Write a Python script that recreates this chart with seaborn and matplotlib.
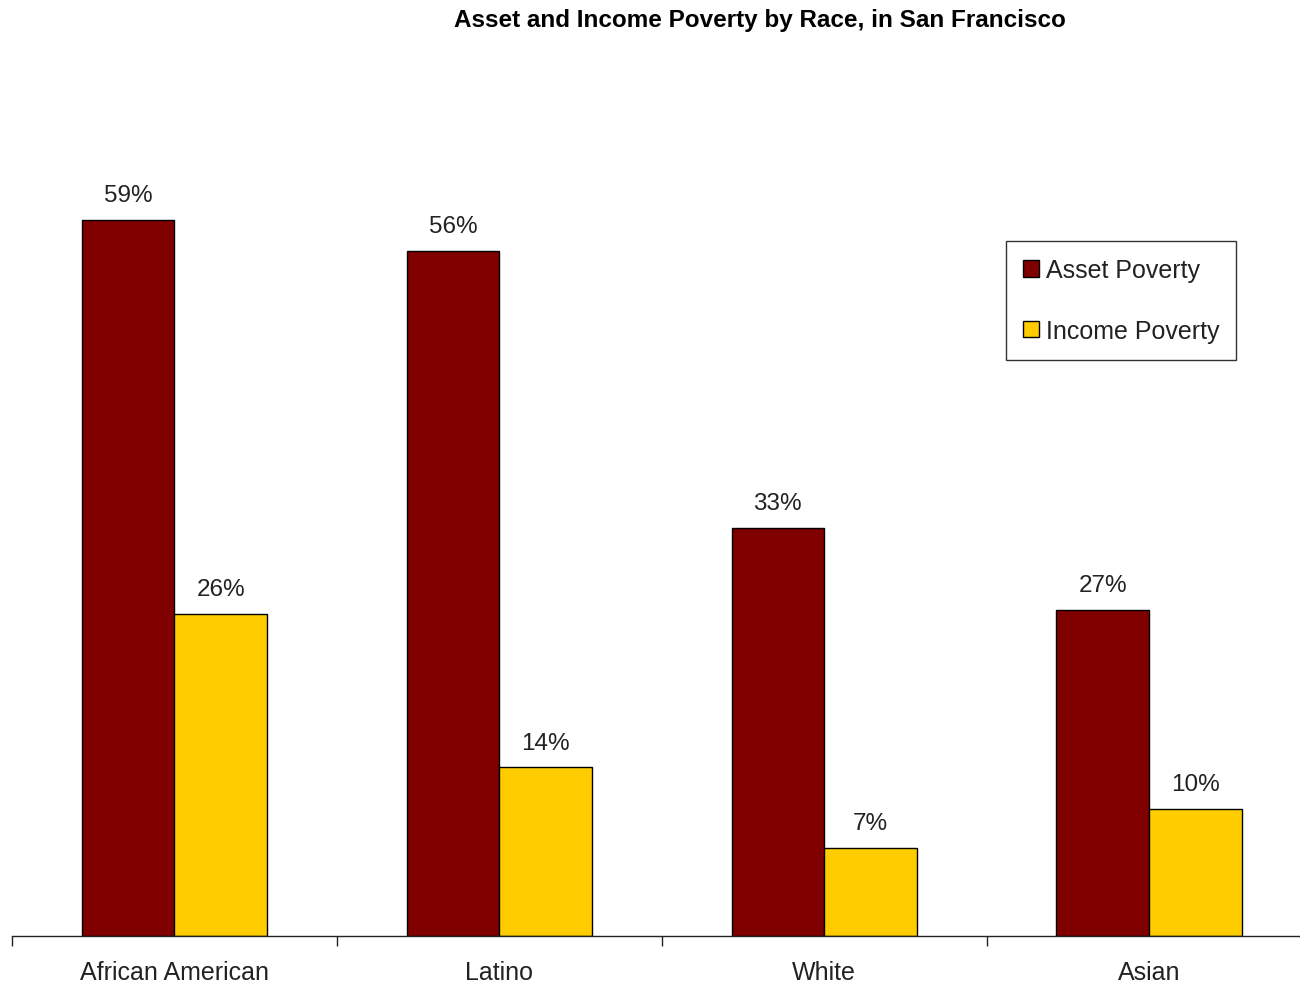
import pandas as pd
import seaborn as sns
import matplotlib.pyplot as plt

races = ["African American", "Latino", "White", "Asian"]
# heights; labels show them rounded
asset_poverty = [58.6, 56.1, 33.4, 26.7]
income_poverty = [26.4, 13.8, 7.2, 10.4]
series_names = ["Asset Poverty", "Income Poverty"]

maroon = "#800000"
gold = "#FFCC00"

df = pd.DataFrame({
    "race": races * 2,
    "measure": [series_names[0]] * len(races) + [series_names[1]] * len(races),
    "value": asset_poverty + income_poverty,
})

sns.set_style("white")
plt.rcParams["font.family"] = ["Liberation Sans", "DejaVu Sans"]

fig = plt.figure(figsize=(13, 9.87), dpi=100)
ax = fig.add_axes([0.0092, 0.0507, 0.9908, 0.8042])

sns.barplot(
    data=df, x="race", y="value", hue="measure",
    order=races, hue_order=series_names,
    palette=[maroon, gold], width=0.57, gap=0,
    edgecolor="black", linewidth=1, saturation=1,
    errorbar=None, ax=ax,
)

for container in ax.containers:
    ax.bar_label(container, labels=[f"{v:.0f}%" for v in container.datavalues],
                 padding=10, fontsize=17.5, color="#222222")

ax.set_ylim(0, 65)
ax.set_xlim(-0.5, 3.465)
ax.set_xlabel("")
ax.set_ylabel("")
ax.set_yticks([])

# category separators on the x axis
ax.set_xticks([-0.5, 0.5, 1.5, 2.5], minor=True)
ax.tick_params(axis="x", which="minor", bottom=True, direction="out",
               length=7, width=1, color="#222222")
ax.tick_params(axis="x", which="major", bottom=False, length=0, pad=17,
               labelsize=18, labelcolor="#222222")

for side in ["top", "right", "left"]:
    ax.spines[side].set_visible(False)
ax.spines["bottom"].set_color("#222222")
ax.spines["bottom"].set_linewidth(1)

leg = ax.legend(
    loc="upper left", bbox_to_anchor=(1006 / 1300, 1 - 242 / 987),
    bbox_transform=fig.transFigure, frameon=True, fancybox=False,
    fontsize=18, handlelength=0.65, handleheight=0.65, handletextpad=0.25,
    labelspacing=1.47, borderpad=0.68, borderaxespad=0,
)
leg.get_frame().set_edgecolor("black")
leg.get_frame().set_linewidth(1)
for text in leg.get_texts():
    text.set_color("#222222")

fig.text(760 / 1300, 1 - 20 / 987, "Asset and Income Poverty by Race, in San Francisco",
         ha="center", va="center", fontsize=17.5, fontweight="bold", color="black")

plt.savefig("out.png", dpi=100)
